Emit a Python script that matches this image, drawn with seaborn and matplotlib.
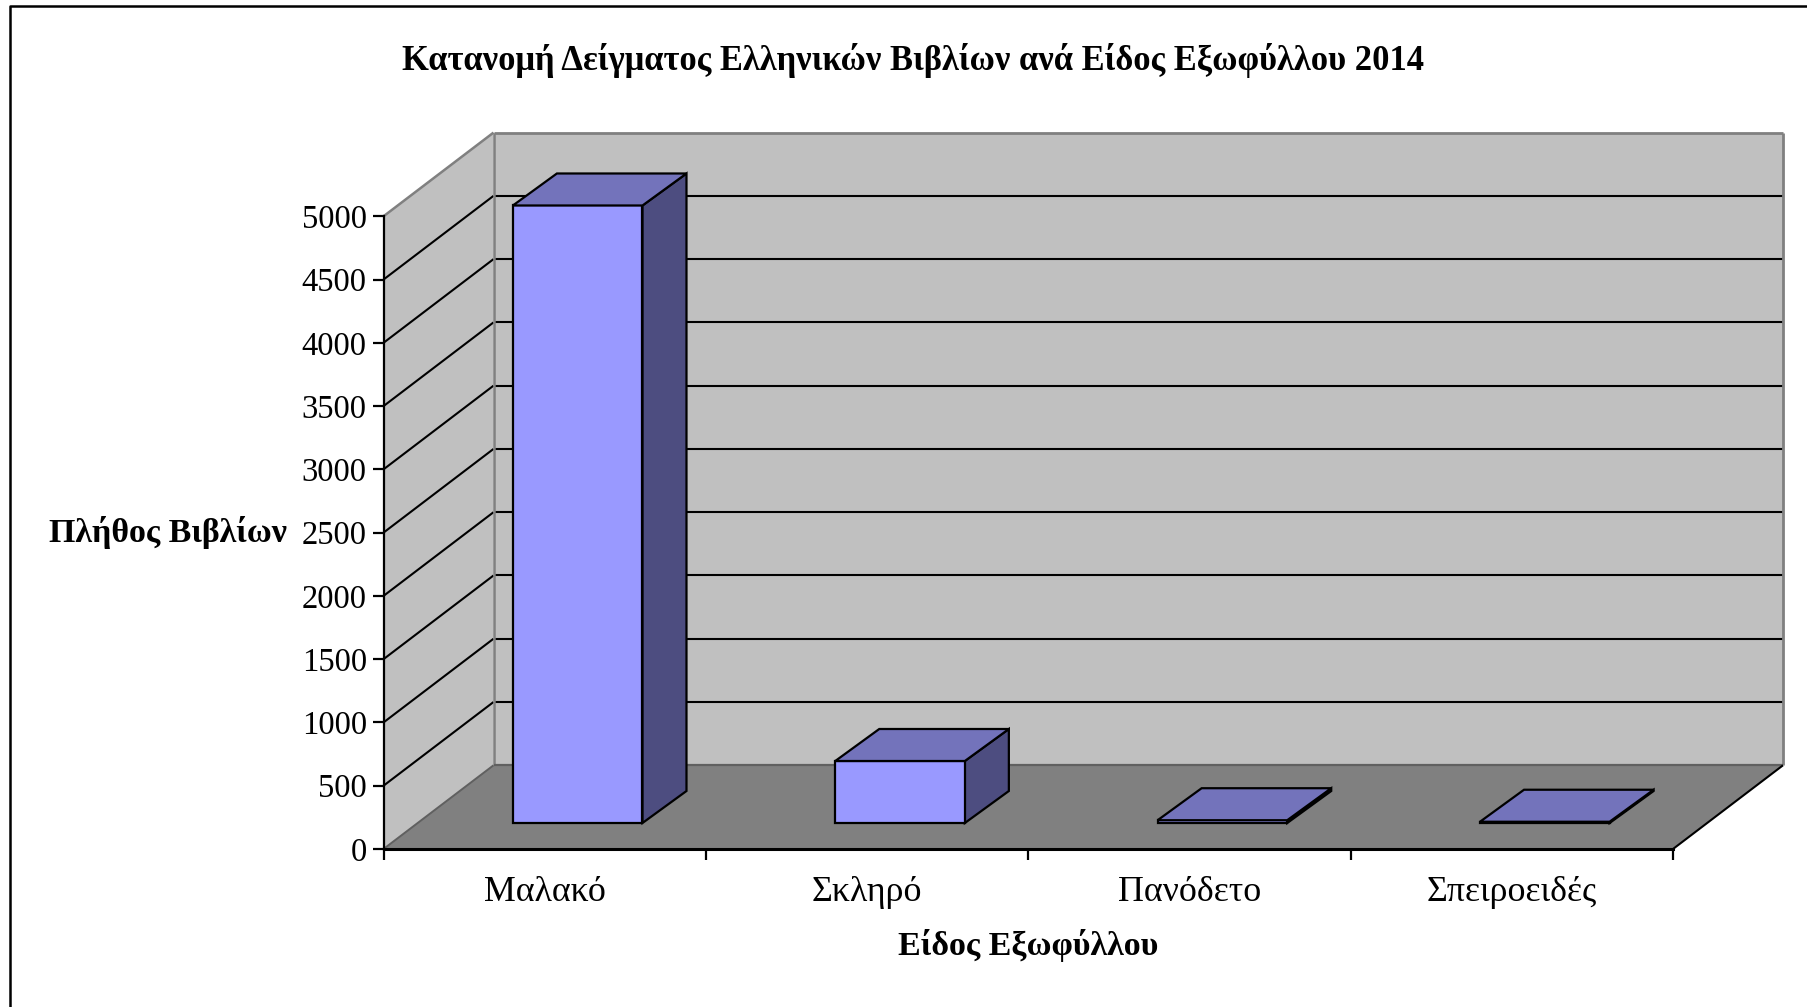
import matplotlib
matplotlib.use("Agg")
import matplotlib.pyplot as plt
from matplotlib.lines import Line2D
from matplotlib.transforms import Affine2D, IdentityTransform
import seaborn as sns
import pandas as pd
import numpy as np

categories = ["Μαλακό", "Σκληρό", "Πανόδετο", "Σπειροειδές"]
values = [4880, 490, 22, 10]
y_ticks = [0, 500, 1000, 1500, 2000, 2500, 3000, 3500, 4000, 4500, 5000]
title = "Κατανομή Δείγματος Ελληνικών Βιβλίων ανά Είδος Εξωφύλλου 2014"
x_title = "Είδος Εξωφύλλου"
y_title = "Πλήθος Βιβλίων"

W, H = 1807, 1007
sns.set_theme(style="white")
plt.rcParams["font.family"] = ["Liberation Serif", "DejaVu Serif"]

fig = plt.figure(figsize=(W / 100, H / 100), dpi=100, facecolor="white")
X0, X1, Y0, Y1 = 383.5, 1673.0, 849.0, 216.3
ax = fig.add_axes([X0 / W, 1 - Y0 / H, (X1 - X0) / W, (Y0 - Y1) / H])
ax.set_facecolor("none")

df = pd.DataFrame({"cat": categories, "val": values})
sns.barplot(data=df, x="cat", y="val", ax=ax, color="#9999FF", saturation=1,
            width=0.402, edgecolor="black", linewidth=1.6, zorder=5)
bars = list(ax.patches)
ax.set_xlim(-0.5, len(categories) - 0.5)
ax.set_ylim(y_ticks[0], y_ticks[-1])

def shifted(ox, oy):
    return ax.transData + Affine2D().translate(ox, oy)

BACK = (110.0, 83.7)      # wall depth in pixels
BAR_POS = (33.0, 26.0)    # bar front offset from the axis plane
BAR_D = (44.0, 32.0)      # bar depth
xa, xb = ax.get_xlim()
ymax = y_ticks[-1]
wall_grey, floor_grey, edge_grey = "#C0C0C0", "#808080", "#808080"
ident = IdentityTransform()

def disp(x, y, off=(0, 0)):
    p = ax.transData.transform((x, y))
    return p[0] + off[0], p[1] + off[1]

def poly(pts, **kw):
    p = plt.Polygon(pts, closed=True, transform=ident, clip_on=False, **kw)
    ax.add_artist(p)
    return p

def seg(p, q, **kw):
    ax.add_artist(Line2D([p[0], q[0]], [p[1], q[1]], transform=ident, clip_on=False,
                         solid_capstyle="butt", **kw))

# walls and floor
poly([disp(xa, 0, BACK), disp(xb, 0, BACK), disp(xb, ymax, BACK), disp(xa, ymax, BACK)],
     facecolor=wall_grey, edgecolor="none", zorder=1)
poly([disp(xa, 0), disp(xa, 0, BACK), disp(xa, ymax, BACK), disp(xa, ymax)],
     facecolor=wall_grey, edgecolor="none", zorder=1)
poly([disp(xa, 0), disp(xb, 0), disp(xb, 0, BACK), disp(xa, 0, BACK)],
     facecolor=floor_grey, edgecolor="none", zorder=1.5)

for t in y_ticks[1:-1]:
    seg(disp(xa, t), disp(xa, t, BACK), color="black", lw=1.5, zorder=2)
    seg(disp(xa, t, BACK), disp(xb, t, BACK), color="black", lw=1.5, zorder=2)
seg(disp(xa, ymax), disp(xa, ymax, BACK), color=edge_grey, lw=1.8, zorder=2)
seg(disp(xa, ymax, BACK), disp(xb, ymax, BACK), color=edge_grey, lw=2, zorder=2)
seg(disp(xa, 0, BACK), disp(xa, ymax, BACK), color=edge_grey, lw=1.8, zorder=2)
seg(disp(xb, 0, BACK), disp(xb, ymax, BACK), color=edge_grey, lw=2, zorder=2)
seg(disp(xa, 0, BACK), disp(xb, 0, BACK), color="#606060", lw=1.6, zorder=2)
seg(disp(xa, 0), disp(xa, 0, BACK), color="#606060", lw=1.4, zorder=2)
seg(disp(xb, 0), disp(xb, 0, BACK), color="black", lw=1.5, zorder=2)

# bars: front face from seaborn, shifted into depth, with top and side faces
front = shifted(*BAR_POS)
for bar in bars:
    bar.set_transform(front)
    bar.set_clip_on(False)
    x, w, h = bar.get_x(), bar.get_width(), bar.get_height()
    p1 = disp(x + w, 0, BAR_POS)
    pt0 = disp(x, h, BAR_POS)
    pt1 = disp(x + w, h, BAR_POS)
    add = lambda p: (p[0] + BAR_D[0], p[1] + BAR_D[1])
    poly([p1, add(p1), add(pt1), pt1], facecolor="#4D4D80", edgecolor="black", lw=1.6, zorder=4)
    poly([pt0, pt1, add(pt1), add(pt0)], facecolor="#7373BB", edgecolor="black", lw=1.6, zorder=6)

# axes
sns.despine(ax=ax, top=True, right=True)
for s in ("left", "bottom"):
    ax.spines[s].set_color("black")
    ax.spines[s].set_zorder(7)
ax.spines["left"].set_linewidth(1.6)
ax.spines["bottom"].set_linewidth(2.2)

ax.set_yticks(y_ticks)
ax.set_yticklabels([str(t) for t in y_ticks])
ax.tick_params(axis="y", left=True, length=8, width=1.6, color="black", labelsize=23.5,
               pad=4, labelcolor="black")
ax.set_xticks(np.arange(-0.5, len(categories)))
ax.set_xticklabels([""] * (len(categories) + 1))
ax.set_xticks(np.arange(len(categories)), labels=categories, minor=True)
ax.tick_params(axis="x", which="major", bottom=True, length=8, width=1.6, color="black")
ax.tick_params(axis="x", which="minor", bottom=False, length=0, labelsize=25.8, pad=19.5,
               labelcolor="black")

ax.set_xlabel(x_title, fontsize=24.5, fontweight="bold", color="black")
ax.xaxis.set_label_coords(0.5, (Y0 - 945) / (Y0 - Y1), transform=ax.transAxes)
ax.xaxis.label.set_va("center")
ax.set_ylabel(y_title, fontsize=24.5, fontweight="bold", color="black", rotation=0,
              ha="center", va="center")
ax.yaxis.set_label_coords((168 - X0) / (X1 - X0), (Y0 - 533) / (Y0 - Y1), transform=ax.transAxes)

fig.text(912.7 / W, 1 - 60 / H, title, ha="center", va="center", fontsize=24.85,
         fontweight="bold", color="black")

# outer chart frame (cropped at right and bottom)
fig.add_artist(Line2D([9.8 / W, 9.8 / W, 1], [0, 1 - 6 / H, 1 - 6 / H], color="black", lw=1.8,
                      transform=fig.transFigure))

fig.savefig("out.png", dpi=100, facecolor="white")
